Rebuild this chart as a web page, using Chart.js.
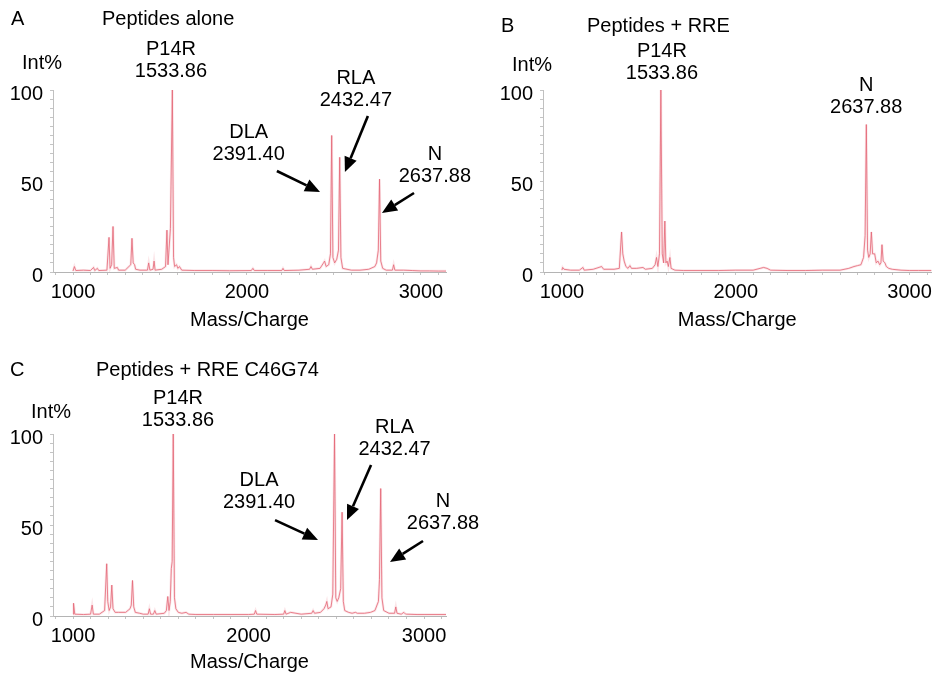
<!DOCTYPE html>
<html><head><meta charset="utf-8">
<script src="https://cdn.jsdelivr.net/npm/chart.js@4.4.1/dist/chart.umd.min.js"></script>
<style>
html,body{margin:0;padding:0;background:#fff;}
#wrap{position:relative;width:932px;height:674px;overflow:hidden;background:#fff;}
canvas{position:absolute;left:0;top:0;}
</style></head><body>
<div id="wrap">
<canvas id="cA" width="932" height="674"></canvas>
<canvas id="cB" width="932" height="674"></canvas>
<canvas id="cC" width="932" height="674"></canvas>
</div>
<script>
// ---- Panel A: Peptides alone ----
const massA = [1000,1008,1016,1060,1100,1118,1125,1140,1148,1195,1207,1213,1222,1230,1237,1255,1262,1300,1332,1339,1346,1354,1360,1385,1428,1435,1442,1460,1466,1472,1510,1532,1540,1546,1560,1571,1578,1584,1595,1603,1612,1625,1700,1800,1900,2025,2034,2042,2120,2200,2207,2214,2300,2360,2368,2376,2420,2440,2446,2455,2470,2480,2487,2494,2504,2516,2526,2533,2540,2550,2600,2650,2700,2735,2745,2755,2762,2769,2780,2800,2836,2843,2850,2900,2950,3000,3050,3100,3144];
const intA  = [0.5,3,0.8,1,0.8,2.5,0.8,2,0.8,1,19,2,4,25,2,2.5,1,1,4,18.5,5,4,1.5,1,1,5,1,1.5,6,1,1.5,3,23,4,24,100,8,3,4,2,3,1,0.8,0.8,0.7,0.8,2,0.8,0.8,0.8,2,0.8,1,1.5,3,1.5,2,5,6,3,4,10,75,8,5,7,12,63,8,2,1,1,1.5,3,5,12,51,6,2,1,1,4,1,1,0.8,0.6,0.6,0.5,0.5];

// ---- Panel B: Peptides + RRE ----
const massB = [1000,1004,1012,1050,1100,1121,1128,1180,1228,1240,1300,1330,1343,1350,1358,1368,1380,1391,1400,1430,1466,1480,1520,1536,1544,1552,1561,1569,1577,1585,1592,1598,1605,1612,1621,1628,1650,1700,1800,1900,2000,2100,2140,2160,2180,2200,2300,2400,2500,2600,2650,2680,2700,2720,2735,2744,2751,2758,2765,2773,2780,2787,2799,2808,2818,2828,2835,2841,2848,2858,2866,2880,2900,2950,3000,3050,3126];
const intB  = [1,2.5,1.5,1,1,2.5,1,1.5,3,1.5,1.5,2,22,10,6,3,2,3.5,2,2,2.5,1.5,2,4,8,3,10,100,10,5,28,5,6,3,8,2,1,0.8,0.8,0.8,1,1,2,2.5,2,1,0.8,0.8,1,1,2,3,3.5,4,8,20,81,12,8,10,22,10,10,5,6,4,5,15,6,5,3,2,1.5,1,0.8,0.8,0.8];

// ---- Panel C: Peptides + RRE C46G74 ----
const massC = [1000,1003,1010,1060,1100,1109,1116,1150,1180,1192,1198,1206,1214,1221,1228,1240,1260,1300,1325,1332,1339,1346,1355,1380,1400,1428,1435,1442,1458,1466,1474,1520,1532,1540,1547,1554,1560,1565,1571,1578,1586,1600,1620,1644,1660,1700,1800,1900,2000,2033,2040,2047,2150,2200,2207,2214,2240,2300,2360,2368,2376,2410,2430,2440,2446,2453,2470,2480,2490,2497,2505,2514,2525,2533,2540,2548,2570,2590,2609,2620,2660,2695,2720,2740,2746,2753,2760,2770,2800,2832,2839,2846,2870,2885,2895,2900,2960,3000,3125];
const intC  = [1,7,1,0.8,1,6,1,1,3,28.7,8,3,5,17,4,2,2,2,4,6,19.5,5,2,1.5,1,1,4,1,1,3,1,1.5,3,10.7,3,8,26,30,100,10,4,2,1.5,2,1,0.8,0.8,0.8,0.8,1,3,1,0.8,1,3,1,2,1,1.5,3,1.5,2,4,6,8,4,5,12,100,10,8,10,15,57,8,3,2,1.5,2,1.5,1.5,2,3,8,20,70,10,3,1.5,1.5,5,1.5,1,2,1,1,0.8,0.8,0.8];

// ---- tick labels ----
const yTickLabels = [0, 50, 100];
const xTickLabels = [1000, 2000, 3000];

const FONT = '"Liberation Sans", Arial, Helvetica, sans-serif';
Chart.defaults.font.family = FONT;
Chart.defaults.font.size = 20;
Chart.defaults.color = '#000';

function drawArrow(ctx, x1, y1, x2, y2) {
  const a = Math.atan2(y2 - y1, x2 - x1), hl = 15, hw = 6.5;
  const bx = x2 - hl * Math.cos(a), by = y2 - hl * Math.sin(a);
  ctx.lineWidth = 2.6;
  ctx.beginPath(); ctx.moveTo(x1, y1); ctx.lineTo(bx, by); ctx.stroke();
  ctx.beginPath(); ctx.moveTo(x2, y2);
  ctx.lineTo(bx + hw * Math.sin(a), by - hw * Math.cos(a));
  ctx.lineTo(bx - hw * Math.sin(a), by + hw * Math.cos(a));
  ctx.closePath(); ctx.fill();
}

const annotPlugin = {
  id: 'annot',
  afterDraw(chart, args, opts) {
    const {ctx} = chart, xs = chart.scales.x, ys = chart.scales.y;
    ctx.save();
    ctx.fillStyle = '#000'; ctx.strokeStyle = '#000';
    ctx.font = '20px ' + FONT;
    ctx.textBaseline = 'middle';
    ctx.textAlign = 'left';
    (opts.headings || []).forEach(h => ctx.fillText(h.text, h.px, h.py));
    ctx.textAlign = 'center';
    (opts.labels || []).forEach(l => {
      const px = xs.getPixelForValue(l.x), py = ys.getPixelForValue(l.y);
      l.text.forEach((t, i) => ctx.fillText(t, px, py + i * 22));
    });
    (opts.arrows || []).forEach(a => {
      drawArrow(ctx, xs.getPixelForValue(a.from[0]), ys.getPixelForValue(a.from[1]),
                     xs.getPixelForValue(a.to[0]), ys.getPixelForValue(a.to[1]));
    });
    ctx.restore();
  }
};

function makeChart(id, mass, inten, cfg) {
  const pts = mass.map((m, i) => ({x: m, y: inten[i]}));
  return new Chart(document.getElementById(id), {
    type: 'line',
    data: {datasets: [
      {data: pts, borderColor: 'rgba(240,165,175,0.28)', borderWidth: 2.5, pointRadius: 0, tension: 0, fill: false},
      {data: pts, borderColor: 'rgba(224,78,95,0.8)', borderWidth: 1, pointRadius: 0, tension: 0, fill: false}
    ]},
    options: {
      responsive: false, animation: false, events: [],
      layout: {padding: cfg.padding},
      plugins: {legend: {display: false}, tooltip: {enabled: false}, annot: cfg.annot},
      scales: {
        x: {
          type: 'linear', min: cfg.xmin, max: cfg.xmax,
          afterFit: s => { s.height = cfg.xHeight; },
          ticks: {stepSize: 100, includeBounds: false, autoSkip: false, maxRotation: 0, padding: 5,
                  font: {size: 20}, color: '#000',
                  callback: v => xTickLabels.includes(v) ? String(v) : ''},
          grid: {drawOnChartArea: false, tickLength: 3, color: '#c4c4c4'},
          border: {color: '#b4b4b4', width: 1},
          title: {display: true, text: 'Mass/Charge', font: {size: 20}, color: '#000',
                  padding: {top: 0, bottom: cfg.titlePad}}
        },
        y: {
          type: 'linear', min: 0, max: 100,
          afterFit: s => { s.width = 53; },
          ticks: {stepSize: 5, autoSkip: false, padding: 7, labelOffset: 4, font: {size: 20}, color: '#000',
                  callback: v => yTickLabels.includes(v) ? String(v) : ''},
          grid: {drawOnChartArea: false, tickLength: 3, color: '#c4c4c4'},
          border: {color: '#c0c0c0', width: 1}
        }
      }
    },
    plugins: [annotPlugin]
  });
}

makeChart('cA', massA, intA, {
  padding: {left: 0, top: 90, right: 486, bottom: 337}, xHeight: 65, titlePad: 5, xmin: 885, xmax: 3144,
  annot: {
    headings: [{text: 'A', px: 11, py: 19}, {text: 'Peptides alone', px: 102, py: 19.5}, {text: 'Int%', px: 22, py: 63}],
    labels: [
      {text: ['P14R', '1533.86'], x: 1563, y: 122},
      {text: ['RLA', '2432.47'], x: 2626, y: 106.3},
      {text: ['DLA', '2391.40'], x: 2010, y: 76.4},
      {text: ['N', '2637.88'], x: 3080, y: 64.3}
    ],
    arrows: [
      {from: [2172, 55.5], to: [2420, 44]},
      {from: [2695, 85.7], to: [2563, 54.9]},
      {from: [2960, 43.4], to: [2776, 32.4]}
    ]
  }
});

makeChart('cB', massB, intB, {
  padding: {left: 490, top: 90, right: 0, bottom: 337}, xHeight: 65, titlePad: 5, xmin: 891, xmax: 3126,
  annot: {
    headings: [{text: 'B', px: 501, py: 26}, {text: 'Peptides + RRE', px: 587, py: 26}, {text: 'Int%', px: 512, py: 65.5}],
    labels: [
      {text: ['P14R', '1533.86'], x: 1575, y: 120.9},
      {text: ['N', '2637.88'], x: 2750, y: 102.5}
    ],
    arrows: []
  }
});

makeChart('cC', massC, intC, {
  padding: {left: 0, top: 434, right: 486, bottom: 0}, xHeight: 58, titlePad: 0, xmin: 886, xmax: 3125,
  annot: {
    headings: [{text: 'C', px: 10, py: 370}, {text: 'Peptides + RRE C46G74', px: 96, py: 370}, {text: 'Int%', px: 31, py: 412.5}],
    labels: [
      {text: ['P14R', '1533.86'], x: 1598, y: 119.5},
      {text: ['RLA', '2432.47'], x: 2832, y: 103.6},
      {text: ['DLA', '2391.40'], x: 2060, y: 74.7},
      {text: ['N', '2637.88'], x: 3108, y: 62.9}
    ],
    arrows: [
      {from: [2151, 52.7], to: [2396, 41.8]},
      {from: [2698, 83], to: [2561, 52.7]},
      {from: [2994, 41.2], to: [2806, 29.7]}
    ]
  }
});
</script>
</body></html>
